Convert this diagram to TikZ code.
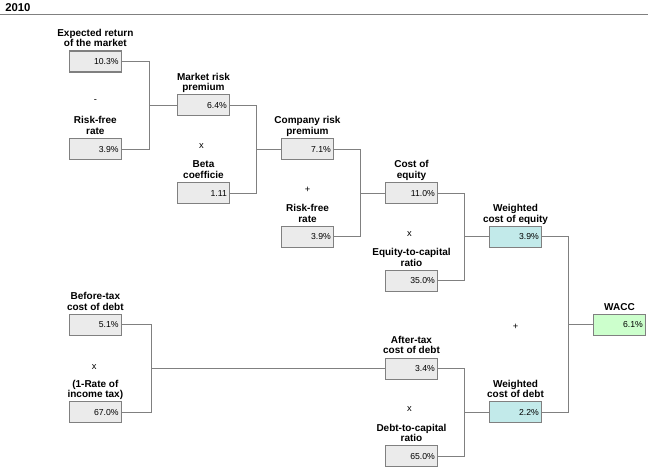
\documentclass[tikz,border=0pt]{standalone}
\usepackage{fontspec}
\setmainfont{Liberation Sans}
\usetikzlibrary{positioning}
\definecolor{boxgray}{RGB}{235,235,235}
\definecolor{edgegray}{RGB}{128,128,128}
\definecolor{eqcyan}{RGB}{194,234,234}
\definecolor{waccgreen}{RGB}{204,255,204}

\begin{document}
\begin{tikzpicture}[x=78pt,y=-32.9pt,
valuebox/.style={rectangle, draw=edgegray, fill=boxgray, line width=0.8pt, text width=35pt, align=right, inner xsep=2pt, inner ysep=0pt, minimum height=15.75pt, font=\fontsize{6.5}{7}\selectfont},
weightbox/.style={valuebox, fill=eqcyan},
resultbox/.style={valuebox, fill=waccgreen},
boxlabel/.style={inner sep=0pt, align=center, text depth=0pt, font=\fontsize{7.5}{8}\selectfont\bfseries},
opsign/.style={inner sep=0pt, font=\fontsize{7}{8}\selectfont},
link/.style={draw=edgegray, line width=0.75pt}
]
\useasboundingbox (-74.625pt,46.125pt) rectangle (411.375pt,-306.375pt);

%Title
\node[anchor=west, inner sep=0pt, font=\fontsize{8.5}{9}\selectfont\bfseries] (year) at (-70.875pt,40.125pt) {2010};
\draw[edgegray, line width=0.75pt] (-74.625pt,35.25pt) -- (411.375pt,35.25pt);

%Boxes
\node[valuebox]   (expret) at (-0.04,0) {10.3\%};
\node[valuebox]   (rfra)   at (-0.04,2) {3.9\%};
\node[valuebox]   (mrp)    at (1,1) {6.4\%};
\node[valuebox]   (beta)   at (1,3) {1.11};
\node[valuebox]   (crp)    at (2,2) {7.1\%};
\node[valuebox]   (rfrb)   at (2,4) {3.9\%};
\node[valuebox]   (coe)    at (3,3) {11.0\%};
\node[valuebox]   (ecr)    at (3,5) {35.0\%};
\node[weightbox]  (wce)    at (4,4) {3.9\%};
\node[resultbox]  (wacc)   at (5,6) {6.1\%};
\node[valuebox]   (btcd)   at (-0.04,6) {5.1\%};
\node[valuebox]   (rit)    at (-0.04,8) {67.0\%};
\node[valuebox]   (atcd)   at (3,7) {3.4\%};
\node[valuebox]   (dcr)    at (3,9) {65.0\%};
\node[weightbox]  (wcd)    at (4,8) {2.2\%};

%Labels
\node[boxlabel, above=2.5pt of expret] (expreth) {Expected return\\of the market};
\node[boxlabel, above=2.5pt of rfra]   (rfrah)   {Risk-free\\rate};
\node[boxlabel, above=2.5pt of mrp]    (mrph)    {Market risk\\premium};
\node[boxlabel, above=2.5pt of beta]   (betah)   {Beta\\coefficie};
\node[boxlabel, above=2.5pt of crp]    (crph)    {Company risk\\premium};
\node[boxlabel, above=2.5pt of rfrb]   (rfrbh)   {Risk-free\\rate};
\node[boxlabel, above=2.5pt of coe]    (coeh)    {Cost of\\equity};
\node[boxlabel, above=2.5pt of ecr]    (ecrh)    {Equity-to-capital\\ratio};
\node[boxlabel, above=2.5pt of wce]    (wceh)    {Weighted\\cost of equity};
\node[boxlabel, above=2.5pt of wacc]   (wacch)   {WACC};
\node[boxlabel, above=2.5pt of btcd]   (btcdh)   {Before-tax\\cost of debt};
\node[boxlabel, above=2.5pt of rit]    (rith)    {(1-Rate of\\income tax)};
\node[boxlabel, above=2.5pt of atcd]   (atcdh)   {After-tax\\cost of debt};
\node[boxlabel, above=2.5pt of dcr]    (dcrh)    {Debt-to-capital\\ratio};
\node[boxlabel, above=2.5pt of wcd]    (wcdh)    {Weighted\\cost of debt};

%Signs
\node[opsign] (minusa) at (-0.04,0.91) {-};
\node[opsign] (timesa) at (0.98,1.93) {x};
\node[opsign] (plusa)  at (2,2.93) {+};
\node[opsign] (timesb) at (2.98,3.93) {x};
\node[opsign] (plusb)  at (4,6.04) {+};
\node[opsign] (timesc) at (-0.05,6.96) {x};
\node[opsign] (timesd) at (2.98,7.93) {x};

%Lines
\draw[link] (expret.east) -- ++(21pt,0) coordinate (ja) |- (rfra.east);
\draw[link] (ja |- mrp.west) -- (mrp.west);
\draw[link] (mrp.east) -- ++(20pt,0) coordinate (jb) |- (beta.east);
\draw[link] (jb |- crp.west) -- (crp.west);
\draw[link] (crp.east) -- ++(20pt,0) coordinate (jc) |- (rfrb.east);
\draw[link] (jc |- coe.west) -- (coe.west);
\draw[link] (coe.east) -- ++(20pt,0) coordinate (jd) |- (ecr.east);
\draw[link] (jd |- wce.west) -- (wce.west);
\draw[link] (btcd.east) -- ++(22pt,0) coordinate (je) |- (rit.east);
\draw[link] (je |- atcd.west) -- (atcd.west);
\draw[link] (atcd.east) -- ++(20pt,0) coordinate (jf) |- (dcr.east);
\draw[link] (jf |- wcd.west) -- (wcd.west);
\draw[link] (wce.east) -- ++(20pt,0) coordinate (jg) |- (wcd.east);
\draw[link] (jg |- wacc.west) -- (wacc.west);

\end{tikzpicture}
\end{document}
